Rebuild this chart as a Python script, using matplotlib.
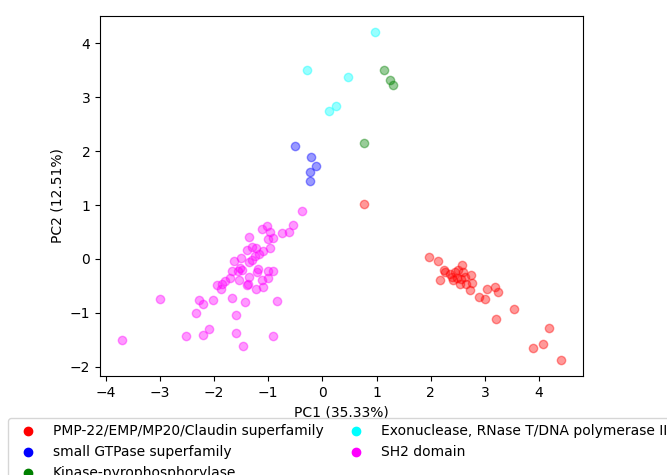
import matplotlib
matplotlib.use("Agg")
import matplotlib.pyplot as plt

labels = [
    "PMP-22/EMP/MP20/Claudin superfamily",
    "small GTPase superfamily",
    "Kinase-pyrophosphorylase",
    "Exonuclease, RNase T/DNA polymerase III",
    "SH2 domain",
]
colors = ["red", "blue", "green", "cyan", "magenta"]

red_x = [0.76, 1.96, 2.13, 2.24, 2.26, 2.18, 2.57, 2.45, 2.39, 2.42, 2.51, 2.60, 2.74, 2.63,
         2.54, 2.65, 2.77, 2.73, 2.48, 2.89, 3.01, 3.03, 3.19, 3.25, 3.54, 3.21, 4.18, 4.08,
         3.89, 4.40, 2.35, 2.55]
red_y = [1.02, 0.03, -0.04, -0.21, -0.25, -0.40, -0.11, -0.24, -0.33, -0.40, -0.21, -0.24,
         -0.30, -0.33, -0.46, -0.47, -0.45, -0.58, -0.36, -0.70, -0.74, -0.56, -0.52, -0.61,
         -0.93, -1.12, -1.29, -1.58, -1.66, -1.87, -0.28, -0.38]

blue_x = [-0.50, -0.21, -0.12, -0.23, -0.22]
blue_y = [2.09, 1.90, 1.73, 1.62, 1.44]

green_x = [1.13, 1.24, 1.31, 0.77]
green_y = [3.50, 3.33, 3.23, 2.16]

cyan_x = [0.97, -0.29, 0.47, 0.25, 0.13]
cyan_y = [4.21, 3.51, 3.38, 2.83, 2.75]

mag_x = [-0.37, -0.54, -0.61, -0.75, -1.03, -1.11, -0.97, -1.35, -1.01, -0.92, -0.96, -1.30,
         -1.22, -1.40, -1.09, -1.17, -1.25, -1.50, -1.63, -1.36, -1.30, -1.52, -1.49, -1.21,
         -1.19, -1.66, -1.56, -1.00, -0.91, -1.70, -1.35, -1.54, -1.11, -1.01, -1.80, -1.85,
         -1.94, -1.87, -1.39, -1.37, -1.10, -1.23, -1.66, -1.43, -0.83, -2.02, -2.27, -2.20,
         -2.99, -2.34, -1.60, -2.10, -2.21, -2.51, -1.60, -0.91, -1.46, -3.70]
mag_y = [0.88, 0.63, 0.49, 0.48, 0.61, 0.55, 0.50, 0.40, 0.37, 0.38, 0.21, 0.22,
         0.21, 0.17, 0.15, 0.09, 0.05, 0.01, -0.03, -0.06, -0.02, -0.17, -0.20, -0.25,
         -0.19, -0.23, -0.23, -0.23, -0.22, -0.35, -0.33, -0.40, -0.40, -0.36, -0.41, -0.46,
         -0.49, -0.56, -0.49, -0.46, -0.52, -0.56, -0.72, -0.80, -0.79, -0.77, -0.76, -0.83,
         -0.75, -1.01, -1.04, -1.31, -1.42, -1.44, -1.37, -1.44, -1.61, -1.50]

series_x = [red_x, blue_x, green_x, cyan_x, mag_x]
series_y = [red_y, blue_y, green_y, cyan_y, mag_y]

fig = plt.figure(figsize=(6.67, 4.75), dpi=100)
ax = fig.add_axes([0.1499, 0.2084, 0.7237, 0.7585])
for xs, ys, c, lab in zip(series_x, series_y, colors, labels):
    ax.scatter(xs, ys, c=c, alpha=0.4, label=lab)

ax.set_xlabel("PC1 (35.33%)")
ax.set_ylabel("PC2 (12.51%)")
leg = ax.legend(loc="upper center", bbox_to_anchor=(0.5021, -0.098), ncol=2,
                columnspacing=1.3)
for h in leg.legend_handles:
    h.set_alpha(1)

fig.savefig("out.png", dpi=100)
